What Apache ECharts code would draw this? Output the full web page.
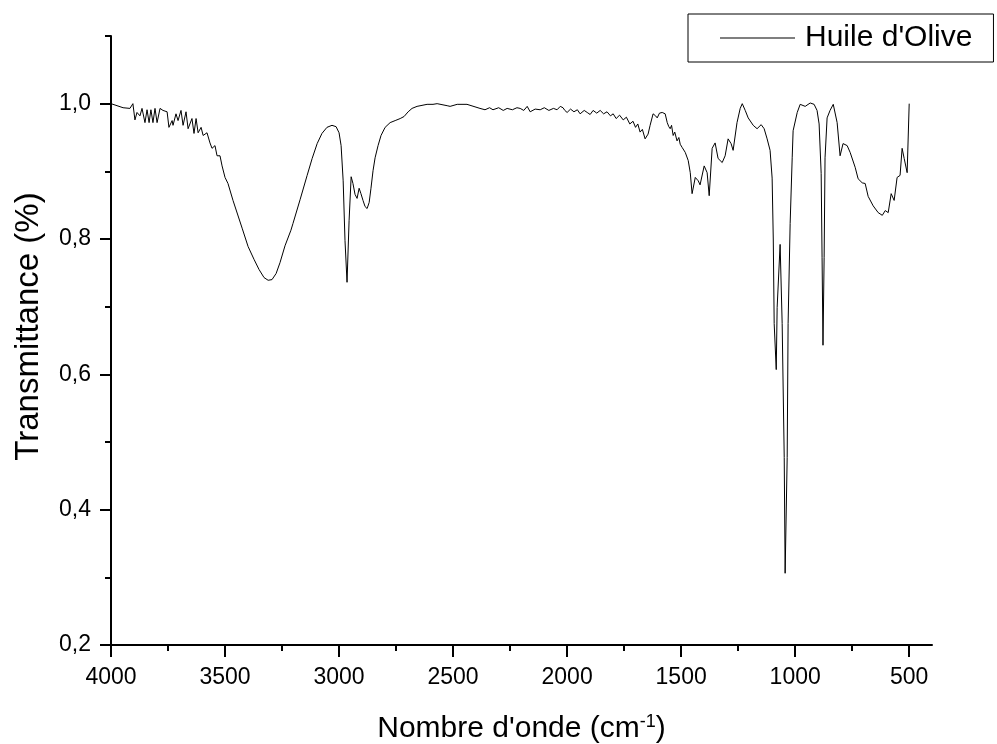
<!DOCTYPE html>
<html>
<head>
<meta charset="utf-8">
<script src="https://cdn.jsdelivr.net/npm/echarts@6/dist/echarts.min.js"></script>
<style>
html,body{margin:0;padding:0;background:#fff;}
#chart{width:997px;height:744px;}
</style>
</head>
<body>
<div id="chart"></div>
<script>
const wavenumbers = [
4000,3947,3917,3904,3895,3886,3873,3864,3851,3842,3833,3825,3816,3807,3798,3785,3772,3754,3746,3732,
3728,3715,3706,3693,3684,3671,3662,3645,3636,3627,3618,3605,3596,3579,3566,3557,3544,3535,3522,3513,
3500,3487,3465,3425,3399,3373,3351,3329,3311,3294,3276,3259,3237,3211,3202,3171,3140,3118,3096,3075,
3053,3031,3013,3000,2991,2982,2974,2965,2956,2947,2939,2930,2921,2912,2904,2895,2886,2877,2868,2860,
2851,2842,2829,2816,2798,2776,2754,2732,2715,2697,2680,2658,2614,2588,2570,2526,2513,2482,2439,2382,
2360,2340,2325,2300,2280,2263,2240,2220,2206,2190,2175,2162,2140,2118,2100,2080,2060,2044,2030,2018,
2010,2000,1985,1970,1955,1943,1925,1912,1899,1886,1870,1855,1840,1825,1810,1798,1785,1770,1754,1740,
1725,1711,1700,1690,1680,1670,1658,1645,1636,1623,1612,1605,1595,1583,1570,1561,1554,1548,1542,1535,
1528,1518,1510,1504,1495,1482,1469,1460,1452,1438,1425,1417,1399,1386,1377,1364,1351,1338,1320,1307,
1294,1281,1272,1255,1241,1232,1219,1206,1184,1167,1149,1136,1123,1110,1101,1096,1092,1083,1079,1066,
1057,1048,1044,1035,1031,1022,1013,1009,991,978,956,934,917,904,895,886,882,878,873,869,
860,847,833,816,803,790,772,759,737,724,706,693,680,658,636,618,605,592,579,566,
553,540,531,522,509,500
];
const transmittance = [
1.000,0.994,0.993,1.000,0.976,0.987,0.982,0.993,0.972,0.991,0.972,0.991,0.972,0.993,0.972,0.993,0.990,0.988,0.965,0.975,
0.968,0.985,0.975,0.990,0.968,0.988,0.963,0.978,0.956,0.978,0.957,0.965,0.953,0.957,0.942,0.934,0.938,0.923,0.923,0.908,
0.891,0.882,0.857,0.816,0.789,0.770,0.755,0.743,0.739,0.740,0.749,0.765,0.790,0.813,0.823,0.858,0.894,0.919,0.941,0.956,
0.965,0.968,0.966,0.957,0.938,0.886,0.798,0.736,0.827,0.892,0.882,0.866,0.860,0.875,0.867,0.857,0.848,0.845,0.854,0.875,
0.901,0.920,0.938,0.953,0.965,0.972,0.975,0.978,0.981,0.988,0.993,0.996,0.999,0.999,1.000,0.997,0.996,0.999,0.999,0.993,
0.991,0.994,0.991,0.994,0.990,0.993,0.991,0.994,0.993,0.990,0.996,0.988,0.992,0.991,0.994,0.990,0.993,0.991,0.996,0.994,
0.990,0.987,0.992,0.988,0.991,0.985,0.990,0.987,0.984,0.990,0.986,0.990,0.985,0.988,0.982,0.985,0.978,0.983,0.976,0.980,
0.970,0.974,0.965,0.970,0.958,0.962,0.948,0.955,0.968,0.985,0.982,0.979,0.986,0.987,0.985,0.972,0.966,0.963,0.968,0.953,
0.958,0.945,0.950,0.940,0.935,0.928,0.916,0.898,0.867,0.891,0.886,0.880,0.908,0.898,0.864,0.934,0.942,0.919,0.913,0.923,
0.948,0.941,0.931,0.972,0.993,1.000,0.990,0.979,0.968,0.963,0.969,0.963,0.948,0.931,0.890,0.800,0.675,0.607,0.699,0.792,
0.675,0.477,0.306,0.477,0.675,0.823,0.920,0.960,0.987,0.999,0.996,1.001,0.999,0.990,0.970,0.897,0.773,0.643,0.773,0.920,
0.979,0.990,0.999,0.972,0.923,0.941,0.938,0.928,0.906,0.889,0.883,0.882,0.863,0.849,0.839,0.835,0.842,0.839,0.867,0.857,
0.891,0.894,0.934,0.919,0.898,1.000
];
const xMajorTicks = [500,1000,1500,2000,2500,3000,3500,4000];
const xMinorTicks = [750,1250,1750,2250,2750,3250,3750];
const yMajorTicks = [0.2,0.4,0.6,0.8,1.0];
const yMinorTicks = [0.3,0.5,0.7,0.9,1.1];
const seriesName = "Huile d'Olive";

const FONT = 'Liberation Sans, Arial, sans-serif';
const seriesData = wavenumbers.map((w, i) => [w, transmittance[i]]);

const chart = echarts.init(document.getElementById('chart'), null, {renderer: 'canvas'});
const axisLineStyle = {color: '#000', width: 2};
chart.setOption({
  animation: false,
  backgroundColor: '#fff',
  grid: {left: 111, right: 65, top: 36, bottom: 99, containLabel: false, outerBoundsMode: 'none'},
  legend: {
    left: 688, top: 14,
    data: [seriesName],
    icon: 'rect',
    itemWidth: 75, itemHeight: 1,
    borderColor: '#000', borderWidth: 1,
    padding: [9, 21, 9, 32],
    textStyle: {fontSize: 30, color: '#000', fontFamily: FONT, padding: [0, 0, 0, 5]}
  },
  xAxis: [
    {
      type: 'value', min: 400, max: 4000, inverse: true, position: 'bottom',
      axisLine: {show: true, onZero: false, lineStyle: axisLineStyle},
      axisTick: {show: true, customValues: xMajorTicks, length: 12, lineStyle: {color: '#000', width: 2}},
      axisLabel: {show: true, customValues: xMajorTicks, fontSize: 23, color: '#000', fontFamily: FONT, margin: 21,
        formatter: v => String(Math.round(v))},
      splitLine: {show: false},
      name: "Nombre d'onde (cm{sup|-1})",
      nameLocation: 'middle', nameGap: 68,
      nameTextStyle: {fontSize: 30, color: '#000', fontFamily: FONT,
        rich: {sup: {fontSize: 18, color: '#000', fontFamily: FONT, verticalAlign: 'top', padding: [0, 0, 14, 0]}}}
    },
    {
      type: 'value', min: 400, max: 4000, inverse: true, position: 'bottom', gridIndex: 0,
      axisLine: {show: false, onZero: false},
      axisTick: {show: true, customValues: xMinorTicks, length: 6, lineStyle: {color: '#000', width: 2}},
      axisLabel: {show: false},
      splitLine: {show: false}
    }
  ],
  yAxis: [
    {
      type: 'value', min: 0.2, max: 1.1, position: 'left',
      axisLine: {show: true, onZero: false, lineStyle: axisLineStyle},
      axisTick: {show: true, customValues: yMajorTicks, length: 11, lineStyle: {color: '#000', width: 2}},
      axisLabel: {show: true, customValues: yMajorTicks, fontSize: 23, color: '#000', fontFamily: FONT, margin: 20,
        formatter: v => v.toFixed(1).replace('.', ',')},
      splitLine: {show: false},
      name: 'Transmittance (%)',
      nameLocation: 'middle', nameGap: 66,
      nameTextStyle: {fontSize: 33, color: '#000', fontFamily: FONT, padding: [0, 0, 0, 28]}
    },
    {
      type: 'value', min: 0.2, max: 1.1, position: 'left', gridIndex: 0,
      axisLine: {show: false, onZero: false},
      axisTick: {show: true, customValues: yMinorTicks, length: 6, lineStyle: {color: '#000', width: 2}},
      axisLabel: {show: false},
      splitLine: {show: false}
    }
  ],
  series: [{
    name: seriesName,
    type: 'line',
    xAxisIndex: 0, yAxisIndex: 0,
    data: seriesData,
    showSymbol: false,
    symbol: 'none',
    smooth: false,
    lineStyle: {color: '#000', width: 1},
    itemStyle: {color: '#000'}
  }]
});
</script>
</body>
</html>
